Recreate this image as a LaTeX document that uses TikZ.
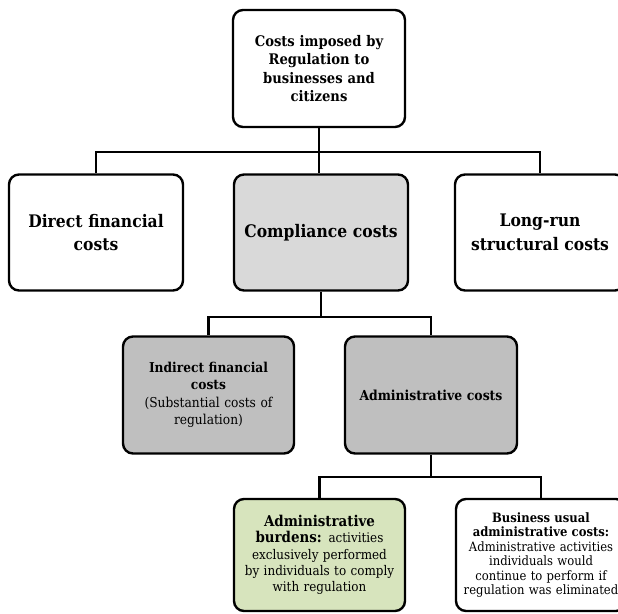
\documentclass[tikz,border=0pt]{standalone}
\usepackage{fontspec}
\usetikzlibrary{calc}
\setmainfont{DejaVu Serif Condensed}
\definecolor{lgray}{HTML}{D9D9D9}
\definecolor{mgray}{HTML}{BFBFBF}
\definecolor{lgreen}{HTML}{D7E4BD}
\tikzset{
  box/.style={draw=black, line width=2.4pt, rounded corners=10pt, align=center, inner sep=2pt},
  conn/.style={draw=black, line width=2.4pt},
}
\begin{document}
\begin{tikzpicture}[x=1pt,y=-1pt]
\useasboundingbox (0,0) rectangle (618,613);
% top
\node[box, minimum width=172pt, minimum height=117pt, text width=165pt,
  font=\fontsize{14.6}{18.3}\selectfont\bfseries] (top) at (319,68.5)
  {Costs imposed by\\Regulation to\\businesses and\\citizens};
% row 2
\node[box, minimum width=174pt, minimum height=116pt, text width=165pt,
  font=\fontsize{17.3}{23.5}\selectfont\bfseries] (dfc) at (96,232.5)
  {Direct financial\\costs};
\node[box, fill=lgray, minimum width=174pt, minimum height=116pt, text width=165pt,
  font=\fontsize{17.3}{23.5}\selectfont\bfseries] (cc) at (321,232.5)
  {Compliance costs};
\node[box, minimum width=170pt, minimum height=116pt, text width=165pt,
  font=\fontsize{17.3}{23.5}\selectfont\bfseries] (lrs) at (540,232.5)
  {Long-run\\structural costs};
% row 3
\node[box, fill=mgray, minimum width=171pt, minimum height=117pt, text width=165pt,
  font=\fontsize{13.6}{16.5}\selectfont] (ifc) at (208.5,395)
  {\textbf{Indirect financial}\\\textbf{costs}\\[2pt](Substantial costs of\\regulation)};
\node[box, fill=mgray, minimum width=172pt, minimum height=117pt, text width=165pt,
  font=\fontsize{13.8}{16.5}\selectfont\bfseries] (adc) at (431,395)
  {Administrative costs};
% row 4
\node[box, fill=lgreen, minimum width=171pt, minimum height=112pt, text width=166pt,
  font=\fontsize{13.3}{16.2}\selectfont] (ab) at (319.5,555)
  {{\fontsize{14.9}{16}\selectfont\textbf{Administrative}}\\{\fontsize{14.9}{16}\selectfont\textbf{burdens:}} activities\\exclusively performed\\by individuals to comply\\with regulation};
\node[box, minimum width=170pt, minimum height=112pt, text width=166pt,
  font=\fontsize{12.9}{14.4}\selectfont] (bu) at (541,555)
  {\textbf{Business usual}\\\textbf{administrative costs:}\\Administrative activities\\individuals would\\continue to perform if\\regulation was eliminated};
% connectors
\coordinate (b1) at ($(top.south)+(0,24)$);
\draw[conn] (top.south) -- (b1);
\draw[conn] (dfc.north) |- (b1) -| (lrs.north);
\draw[conn] (b1) -- (b1 |- cc.north);
\coordinate (b2) at ($(cc.south)+(0,25)$);
\draw[conn] (cc.south) -- (b2);
\draw[conn] (ifc.north) |- (b2) -| (adc.north);
\coordinate (b3) at ($(adc.south)+(0,22)$);
\draw[conn] (adc.south) -- (b3);
\draw[conn] (ab.north) |- (b3) -| (bu.north);
\end{tikzpicture}
\end{document}
